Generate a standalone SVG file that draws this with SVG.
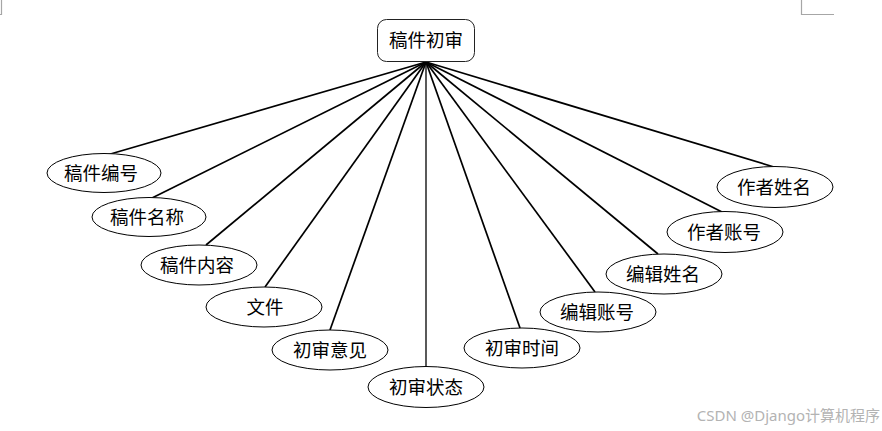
<svg xmlns="http://www.w3.org/2000/svg" width="882" height="431" viewBox="0 0 882 431">
<style>
.e{fill:#fff;stroke:#000;stroke-width:1}
.t{font-family:"Noto Sans CJK SC","Noto Sans",sans-serif;font-size:18.5px;fill:#000;text-anchor:middle}
.c line{stroke:#000;stroke-width:1.7}
.m{fill:none;stroke:#a6a6a6;stroke-width:1.2}
</style>
<rect width="882" height="431" fill="#fff"/>
<polyline class="m" points="0,14.5 1.5,14.5 1.5,0"/>
<polyline class="m" points="801.5,0 801.5,14.5 834,14.5"/>
<g id="connectors" class="c">
<line x1="426" y1="62" x2="107" y2="155"/>
<line x1="426" y1="62" x2="152" y2="198"/>
<line x1="426" y1="62" x2="206" y2="245"/>
<line x1="426" y1="62" x2="265" y2="287"/>
<line x1="426" y1="62" x2="330" y2="330"/>
<line x1="426" y1="62" x2="426" y2="367" style="stroke-width:1.3"/>
<line x1="426" y1="62" x2="520" y2="328"/>
<line x1="426" y1="62" x2="595" y2="292"/>
<line x1="426" y1="62" x2="658" y2="254"/>
<line x1="426" y1="62" x2="722" y2="212"/>
<line x1="426" y1="62" x2="774" y2="167"/>
</g>
<g id="root">
<rect x="377.5" y="19.5" width="97" height="42" rx="9" fill="#fff" stroke="#222" stroke-width="1"/>
<text class="t" x="426" y="47">稿件初审</text>
</g>
<g id="n1"><ellipse class="e" cx="104" cy="173" rx="57" ry="19.5"/><text class="t" x="101" y="179.5">稿件编号</text></g>
<g id="n2"><ellipse class="e" cx="149" cy="217" rx="57" ry="19.5"/><text class="t" x="147" y="223.5">稿件名称</text></g>
<g id="n3"><ellipse class="e" cx="199" cy="265" rx="58" ry="20"/><text class="t" x="197" y="271.5">稿件内容</text></g>
<g id="n4"><ellipse class="e" cx="264" cy="307" rx="58" ry="20"/><text class="t" x="265" y="313.5">文件</text></g>
<g id="n5"><ellipse class="e" cx="330" cy="350" rx="58" ry="20"/><text class="t" x="330" y="356.5">初审意见</text></g>
<g id="n6"><ellipse class="e" cx="426" cy="387" rx="58" ry="20.5"/><text class="t" x="426" y="393.5">初审状态</text></g>
<g id="n7"><ellipse class="e" cx="522" cy="348" rx="58" ry="20"/><text class="t" x="522" y="354.5">初审时间</text></g>
<g id="n8"><ellipse class="e" cx="598" cy="312" rx="58" ry="20"/><text class="t" x="597" y="318.5">编辑账号</text></g>
<g id="n9"><ellipse class="e" cx="664" cy="274" rx="58" ry="20"/><text class="t" x="663" y="280.5">编辑姓名</text></g>
<g id="n10"><ellipse class="e" cx="725" cy="232" rx="58" ry="20.5"/><text class="t" x="724" y="238.5">作者账号</text></g>
<g id="n11"><ellipse class="e" cx="775" cy="187" rx="58" ry="20.5"/><text class="t" x="774" y="193.5">作者姓名</text></g>
<text x="880" y="421" font-family="'Noto Sans','Noto Sans CJK SC',sans-serif" font-size="15" fill="#b3b3b3" text-anchor="end">CSDN @Django计算机程序</text>
</svg>
